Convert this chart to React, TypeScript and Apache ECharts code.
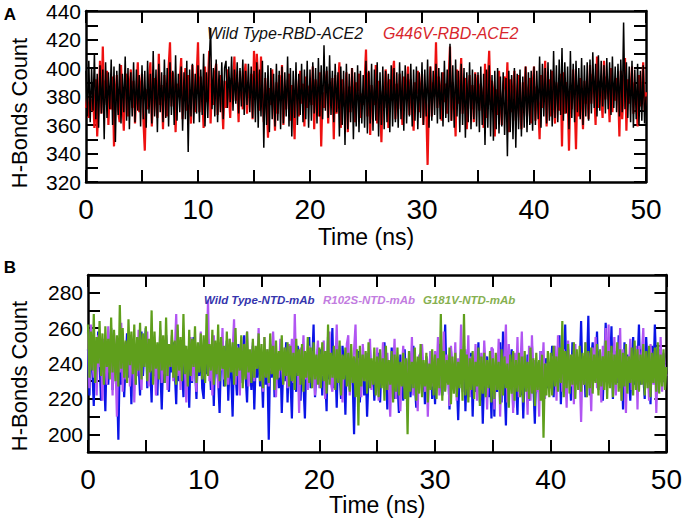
import React, { useEffect, useRef } from "react";
import * as echarts from "echarts";

const TIME_MAX = 50;

// Panel A: H-bond counts (RBD-ACE2), sampled every 0.125 ns
const wtRbdAce2 = [
  398, 366, 405, 362, 400, 370, 410, 364, 396, 358, 402, 368, 399, 350, 404, 365, 397, 371, 406, 360,
  401, 348, 398, 367, 403, 361, 396, 369, 408, 363, 400, 357, 397, 366, 404, 362, 399, 370, 395, 359,
  402, 364, 398, 358, 405, 368, 396, 361, 412, 366, 399, 355, 403, 369, 397, 362, 406, 365, 400, 359,
  404, 367, 398, 360, 409, 363, 396, 369, 401, 356, 397, 364, 405, 341, 399, 366, 403, 361, 396, 368,
  402, 362, 399, 367, 410, 359, 397, 365, 403, 428, 371, 400, 366, 406, 362, 398, 369, 404, 364, 400,
  405, 372, 401, 376, 408, 370, 399, 375, 404, 368, 400, 373, 406, 367, 398, 374, 403, 369, 401, 365,
  398, 362, 404, 358, 399, 366, 405, 344, 397, 360, 402, 355, 400, 364, 396, 359, 403, 363, 398, 357,
  401, 361, 397, 366, 408, 359, 400, 352, 398, 365, 404, 360, 396, 367, 403, 362, 399, 364, 405, 358,
  399, 363, 404, 368, 400, 361, 407, 366, 402, 364, 416, 370, 401, 365, 409, 367, 398, 362, 403, 369,
  397, 352, 401, 360, 398, 346, 403, 357, 396, 362, 400, 350, 397, 359, 402, 355, 398, 361, 395, 358,
  405, 354, 398, 361, 403, 356, 399, 363, 404, 352, 397, 360, 401, 357, 398, 362, 396, 355, 402, 359,
  400, 362, 397, 358, 404, 364, 398, 356, 402, 361, 396, 366, 403, 359, 399, 363, 401, 357, 397, 365,
  404, 360, 399, 366, 406, 358, 401, 363, 398, 367, 403, 361, 400, 364, 397, 359, 405, 365, 399, 362,
  417, 363, 402, 358, 406, 366, 398, 355, 403, 360, 400, 351, 397, 362, 404, 357, 399, 364, 396, 359,
  397, 355, 401, 360, 396, 346, 399, 358, 402, 352, 395, 349, 398, 357, 400, 354, 394, 359, 397, 353,
  393, 338, 398, 355, 395, 350, 400, 344, 396, 357, 399, 352, 394, 358, 401, 355, 397, 360, 398, 356,
  401, 360, 398, 364, 408, 358, 403, 366, 400, 361, 404, 363, 399, 359, 412, 365, 402, 362, 406, 367,
  414, 363, 404, 368, 401, 357, 412, 365, 403, 362, 405, 369, 400, 364, 407, 360, 402, 366, 404, 363,
  406, 368, 411, 372, 403, 366, 409, 370, 405, 373, 402, 368, 407, 371, 404, 367, 408, 372, 401, 369,
  403, 366, 406, 369, 432, 371, 404, 365, 401, 362, 405, 358, 399, 364, 403, 360, 398, 363, 402, 361,
  380,
];
const g446vRbdAce2 = [
  372, 380, 365, 378, 370, 383, 358, 392, 352, 376, 405, 368, 415, 374, 389, 398, 360, 386, 371, 394,
  345, 381, 395, 370, 362, 402, 377, 356, 388, 396, 366, 384, 399, 372, 391, 361, 383, 404, 369, 387,
  396, 363, 342, 385, 371, 391, 404, 359, 382, 393, 377, 365, 410, 374, 388, 357, 395, 379, 366, 400,
  418, 373, 397, 384, 355, 389, 380, 392, 407, 364, 386, 400, 370, 395, 378, 361, 402, 383, 369, 393,
  418, 369, 394, 381, 358, 401, 376, 387, 412, 361, 389, 374, 396, 403, 367, 385, 395, 380, 357, 391,
  372, 399, 385, 365, 393, 386, 408, 377, 390, 362, 398, 382, 371, 394, 403, 368, 387, 379, 396, 364,
  412, 378, 410, 391, 370, 408, 382, 362, 393, 376, 351, 386, 374, 399, 383, 356, 390, 368, 395, 377,
  402, 360, 384, 371, 391, 396, 363, 388, 374, 350, 392, 381, 366, 398, 375, 389, 359, 394, 372, 386,
  388, 374, 401, 357, 392, 383, 366, 397, 345, 383, 372, 389, 398, 361, 389, 376, 393, 350, 395, 368,
  386, 404, 358, 392, 373, 381, 397, 355, 387, 369, 400, 378, 362, 390, 384, 396, 365, 382, 374, 391,
  413, 366, 397, 353, 388, 380, 374, 402, 361, 391, 383, 348, 384, 372, 399, 388, 358, 392, 377, 395,
  405, 364, 389, 371, 396, 383, 360, 394, 378, 386, 401, 367, 392, 375, 356, 390, 382, 398, 369, 385,
  396, 360, 385, 374, 332, 378, 401, 366, 390, 380, 418, 372, 394, 386, 363, 397, 376, 389, 368, 392,
  415, 363, 390, 379, 352, 399, 375, 386, 407, 368, 386, 393, 357, 382, 395, 371, 388, 362, 397, 378,
  395, 370, 389, 381, 358, 403, 365, 392, 412, 374, 391, 383, 352, 385, 367, 398, 377, 360, 388, 394,
  377, 404, 355, 392, 369, 386, 398, 363, 381, 395, 372, 357, 390, 379, 401, 366, 385, 393, 361, 388,
  401, 363, 387, 375, 350, 395, 372, 384, 405, 359, 383, 392, 366, 398, 377, 361, 390, 381, 370, 396,
  345, 397, 368, 390, 383, 342, 384, 371, 399, 378, 343, 388, 366, 393, 380, 357, 391, 375, 386, 364,
  402, 375, 396, 384, 360, 408, 372, 391, 381, 365, 405, 378, 394, 386, 362, 400, 369, 389, 377, 393,
  387, 352, 398, 364, 383, 407, 356, 392, 375, 386, 401, 368, 390, 380, 359, 395, 373, 385, 404, 370,
  383,
];

// Panel B: H-bond counts (NTD-mAb)
const wtNtdMab = [
  248, 222, 255, 236, 216, 252, 230, 258, 241, 219, 246, 236, 213, 250, 228, 244, 260, 225, 238, 251,
  232, 197, 244, 228, 253, 221, 240, 257, 232, 245, 217, 249, 236, 228, 254, 240, 222, 258, 233, 247,
  260, 226, 249, 238, 218, 255, 233, 243, 222, 251, 237, 214, 243, 229, 256, 240, 224, 248, 235, 252,
  236, 217, 252, 230, 246, 239, 221, 250, 234, 244, 215, 248, 229, 255, 238, 220, 246, 233, 251, 226,
  220, 250, 234, 254, 242, 225, 245, 216, 249, 237, 231, 212, 244, 252, 227, 240, 253, 219, 241, 235,
  210, 247, 235, 222, 251, 238, 244, 229, 256, 233, 218, 246, 239, 225, 250, 214, 242, 232, 248, 227,
  239, 215, 248, 228, 241, 197, 244, 232, 250, 221, 240, 236, 226, 246, 212, 238, 230, 252, 218, 243,
  231, 209, 245, 236, 224, 250, 240, 219, 247, 228, 209, 244, 233, 255, 226, 240, 262, 221, 237, 248,
  236, 248, 222, 244, 232, 213, 255, 231, 241, 260, 226, 241, 215, 247, 234, 220, 250, 238, 211, 245,
  238, 225, 243, 231, 200, 243, 229, 247, 218, 237, 245, 222, 239, 210, 233, 248, 227, 241, 219, 235,
  232, 246, 218, 240, 228, 252, 236, 214, 237, 224, 249, 231, 220, 242, 230, 212, 245, 235, 219, 248,
  226, 238, 243, 221, 236, 250, 229, 215, 241, 233, 246, 224, 239, 217, 244, 232, 228, 247, 220, 237,
  217, 244, 233, 251, 227, 222, 240, 262, 229, 240, 214, 247, 236, 225, 243, 230, 208, 238, 245, 230,
  250, 213, 241, 227, 236, 246, 210, 239, 224, 233, 252, 218, 240, 206, 235, 228, 244, 221, 237, 209,
  246, 210, 239, 224, 233, 252, 218, 258, 230, 205, 243, 226, 238, 248, 215, 237, 229, 211, 244, 222,
  240, 209, 236, 225, 245, 219, 232, 250, 228, 206, 241, 234, 222, 247, 230, 213, 238, 243, 226, 235,
  236, 250, 221, 245, 230, 239, 256, 217, 241, 233, 262, 225, 248, 236, 219, 252, 240, 228, 246, 231,
  236, 264, 228, 244, 221, 237, 267, 222, 243, 252, 230, 238, 258, 225, 247, 233, 219, 241, 263, 235,
  250, 235, 261, 220, 247, 238, 229, 256, 226, 243, 214, 252, 230, 245, 236, 219, 240, 255, 228, 246,
  240, 262, 228, 248, 233, 220, 255, 238, 244, 217, 250, 231, 262, 236, 224, 248, 239, 229, 245, 234,
  238,
];
const r102sNtdMab = [
  258, 226, 262, 240, 232, 250, 222, 256, 238, 247, 219, 254, 242, 228, 261, 235, 249, 222, 257, 240,
  210, 249, 235, 263, 224, 252, 231, 244, 257, 227, 241, 251, 218, 246, 233, 259, 238, 225, 250, 243,
  245, 258, 227, 251, 236, 255, 243, 222, 248, 240, 259, 229, 246, 234, 252, 225, 249, 238, 256, 230,
  246, 268, 233, 250, 225, 244, 257, 237, 218, 248, 241, 255, 230, 247, 236, 224, 251, 239, 258, 233,
  235, 253, 242, 276, 230, 249, 222, 256, 239, 245, 226, 252, 236, 260, 231, 247, 243, 228, 254, 237,
  247, 265, 228, 250, 238, 222, 255, 241, 233, 249, 258, 227, 244, 236, 252, 230, 246, 239, 260, 232,
  244, 224, 255, 233, 248, 227, 251, 236, 258, 240, 221, 246, 232, 254, 238, 228, 249, 243, 226, 251,
  240, 254, 229, 268, 235, 243, 212, 249, 237, 256, 231, 245, 225, 250, 239, 233, 247, 222, 241, 253,
  226, 245, 233, 253, 220, 247, 238, 258, 229, 224, 242, 236, 262, 229, 250, 243, 218, 244, 235, 251,
  256, 222, 240, 231, 248, 262, 227, 243, 236, 221, 251, 239, 230, 246, 233, 254, 225, 241, 237, 228,
  249, 219, 243, 234, 252, 224, 238, 246, 228, 210, 241, 236, 254, 220, 244, 232, 213, 238, 250, 226,
  242, 218, 247, 231, 255, 222, 240, 234, 213, 245, 229, 251, 237, 224, 243, 210, 239, 247, 227, 236,
  247, 231, 255, 222, 240, 234, 258, 225, 245, 237, 216, 250, 237, 228, 252, 219, 243, 233, 262, 224,
  239, 248, 230, 256, 221, 244, 235, 228, 251, 219, 242, 233, 246, 225, 253, 237, 214, 241, 230, 249,
  248, 214, 241, 230, 254, 210, 237, 226, 245, 262, 218, 251, 232, 240, 212, 246, 229, 255, 221, 238,
  258, 226, 244, 235, 211, 250, 219, 256, 231, 242, 224, 238, 210, 247, 233, 252, 220, 240, 236, 228,
  226, 244, 235, 250, 219, 256, 231, 242, 224, 248, 238, 215, 253, 236, 227, 245, 217, 251, 230, 240,
  234, 207, 240, 228, 252, 222, 246, 237, 213, 249, 231, 255, 226, 243, 238, 218, 250, 233, 260, 229,
  262, 228, 246, 234, 255, 222, 243, 237, 260, 219, 248, 231, 212, 244, 236, 254, 225, 241, 233, 250,
  214, 250, 233, 245, 260, 227, 242, 236, 219, 251, 238, 228, 247, 212, 240, 232, 255, 224, 246, 237,
  233,
];
const g181vNtdMab = [
  262, 232, 258, 236, 268, 229, 255, 240, 264, 233, 257, 228, 261, 238, 254, 231, 266, 235, 259, 230,
  256, 227, 273, 237, 260, 232, 253, 229, 265, 239, 258, 234, 262, 228, 255, 236, 263, 231, 257, 238,
  261, 230, 254, 235, 270, 228, 258, 237, 252, 231, 264, 236, 256, 229, 266, 233, 251, 238, 259, 232,
  253, 228, 262, 236, 255, 230, 268, 234, 250, 227, 259, 233, 254, 238, 261, 229, 252, 235, 257, 231,
  256, 229, 268, 233, 251, 236, 259, 228, 253, 234, 262, 230, 255, 237, 250, 227, 258, 232, 254, 235,
  252, 228, 260, 233, 249, 236, 256, 226, 251, 231, 258, 235, 248, 229, 254, 232, 250, 237, 257, 230,
  251, 226, 255, 232, 248, 229, 257, 234, 250, 225, 253, 231, 247, 236, 256, 228, 249, 233, 252, 227,
  250, 230, 246, 225, 254, 233, 248, 228, 251, 224, 247, 232, 255, 229, 249, 226, 252, 231, 245, 228,
  249, 226, 252, 230, 247, 223, 262, 228, 246, 232, 250, 225, 248, 229, 253, 222, 245, 231, 249, 227,
  246, 224, 251, 229, 244, 221, 248, 205, 250, 227, 245, 230, 247, 223, 252, 226, 243, 228, 249, 222,
  244, 221, 248, 226, 243, 219, 250, 225, 242, 228, 247, 218, 245, 224, 249, 222, 241, 227, 246, 220,
  243, 200, 247, 224, 241, 226, 249, 219, 244, 223, 251, 221, 242, 227, 246, 218, 240, 225, 248, 222,
  245, 220, 243, 226, 268, 219, 247, 224, 242, 228, 249, 217, 244, 223, 246, 221, 241, 226, 248, 219,
  268, 222, 245, 218, 243, 225, 247, 220, 241, 227, 249, 216, 244, 223, 246, 221, 242, 226, 247, 218,
  243, 220, 246, 225, 241, 217, 248, 222, 244, 226, 240, 215, 245, 223, 247, 219, 242, 224, 246, 221,
  244, 218, 247, 224, 241, 220, 249, 223, 243, 216, 246, 225, 242, 219, 245, 198, 240, 222, 247, 221,
  246, 222, 250, 227, 244, 224, 249, 229, 264, 221, 247, 226, 251, 223, 245, 228, 252, 220, 248, 225,
  250, 224, 246, 228, 252, 221, 247, 226, 249, 223, 245, 229, 251, 222, 248, 227, 244, 225, 253, 220,
  247, 226, 250, 221, 245, 228, 252, 224, 248, 219, 246, 227, 251, 223, 244, 229, 249, 222, 253, 225,
  248, 224, 245, 228, 251, 222, 247, 226, 250, 221, 246, 229, 249, 224, 252, 223, 245, 227, 248, 225,
  238,
];

const legendA = ["Wild Type-RBD-ACE2", "G446V-RBD-ACE2"];
const legendB = ["Wild Type-NTD-mAb", "R102S-NTD-mAb", "G181V-NTD-mAb"];

const FONT = "'Liberation Sans', Arial, sans-serif";

function toPairs(values: number[]) {
  const step = TIME_MAX / (values.length - 1);
  return values.map((v, i) => [i * step, v]);
}

const lineAxis = { show: true, onZero: false, lineStyle: { color: "#000", width: 2.5 } };
const tick = { show: true, inside: true, length: 12, lineStyle: { color: "#000", width: 2 } };

function xAxes(gridIndex: number, gap: number) {
  return [
    {
      type: "value", gridIndex, position: "bottom", min: 0, max: 50, interval: 5,
      axisLine: lineAxis, axisTick: tick, splitLine: { show: false },
      axisLabel: {
        color: "#000", fontSize: 28, fontFamily: FONT, margin: 13,
        formatter: (v: number) => (v % 10 === 0 ? String(v) : ""),
      },
      name: "Time (ns)", nameLocation: "middle", nameGap: gap,
      nameTextStyle: { color: "#000", fontSize: 23, fontFamily: FONT },
    },
    {
      type: "value", gridIndex, position: "top", min: 0, max: 50, interval: 5,
      axisLine: lineAxis, axisTick: tick, splitLine: { show: false }, axisLabel: { show: false },
    },
  ];
}

function yAxes(gridIndex: number, min: number, max: number) {
  return [
    {
      type: "value", gridIndex, position: "left", min, max, interval: 10,
      axisLine: lineAxis, axisTick: tick, splitLine: { show: false },
      axisLabel: {
        color: "#000", fontSize: 21, fontFamily: FONT, margin: 5,
        showMinLabel: true, showMaxLabel: true,
        formatter: (v: number) => (v % 20 === 0 ? String(v) : ""),
      },
    },
    {
      type: "value", gridIndex, position: "right", min, max, interval: 10,
      axisLine: lineAxis, axisTick: tick, splitLine: { show: false }, axisLabel: { show: false },
    },
  ];
}

function lineSeries(values: number[], color: string, axis: number, width: number) {
  return {
    type: "line", xAxisIndex: axis, yAxisIndex: axis, data: toPairs(values),
    symbol: "none", showSymbol: false, silent: true,
    lineStyle: { color, width },
  };
}

export default function App() {
  const ref = useRef<HTMLDivElement>(null);
  useEffect(() => {
    if (!ref.current) return;
    const chart = echarts.init(ref.current, undefined, { renderer: "svg" });
    chart.setOption({
      animation: false,
      backgroundColor: "#fff",
      grid: [
        { left: 86, top: 11, width: 560, height: 171 },
        { left: 88, top: 275, width: 579, height: 177 },
      ],
      xAxis: [...xAxes(0, 43), ...xAxes(1, 41)],
      yAxis: [...yAxes(0, 320, 440), ...yAxes(1, 190, 290)],
      series: [
        lineSeries(g446vRbdAce2, "#ee1111", 0, 2.2),
        lineSeries(wtRbdAce2, "#000000", 0, 1.5),
        lineSeries(wtNtdMab, "#0a14e6", 2, 2.2),
        lineSeries(r102sNtdMab, "#b155f2", 2, 2.2),
        lineSeries(g181vNtdMab, "#5f9f1c", 2, 2.2),
      ],
      graphic: [
        { type: "text", x: 10, y: 14, style: { text: "A", fontSize: 17, fontWeight: "bold", fontFamily: FONT, fill: "#000", align: "center", verticalAlign: "middle" } },
        { type: "text", x: 10, y: 267, style: { text: "B", fontSize: 17, fontWeight: "bold", fontFamily: FONT, fill: "#000", align: "center", verticalAlign: "middle" } },
        { type: "text", x: 19, y: 113, rotation: Math.PI / 2, style: { text: "H-Bonds Count", fontSize: 22, fontFamily: FONT, fill: "#000", align: "center", verticalAlign: "middle" } },
        { type: "text", x: 19, y: 376, rotation: Math.PI / 2, style: { text: "H-Bonds Count", fontSize: 22, fontFamily: FONT, fill: "#000", align: "center", verticalAlign: "middle" } },
        { type: "text", x: 207, y: 33, z: 10, style: { text: legendA[0], fontSize: 16, fontStyle: "italic", fontFamily: FONT, fill: "#111", verticalAlign: "middle" } },
        { type: "text", x: 383, y: 33, z: 10, style: { text: legendA[1], fontSize: 16, fontStyle: "italic", fontFamily: FONT, fill: "#d8262c", verticalAlign: "middle" } },
        { type: "text", x: 204, y: 300, z: 10, style: { text: legendB[0], fontSize: 11.5, fontStyle: "italic", fontWeight: "bold", fontFamily: FONT, fill: "#3535ad", verticalAlign: "middle" } },
        { type: "text", x: 323, y: 300, z: 10, style: { text: legendB[1], fontSize: 11.5, fontStyle: "italic", fontWeight: "bold", fontFamily: FONT, fill: "#c27ce0", verticalAlign: "middle" } },
        { type: "text", x: 423, y: 300, z: 10, style: { text: legendB[2], fontSize: 11.5, fontStyle: "italic", fontWeight: "bold", fontFamily: FONT, fill: "#86b04f", verticalAlign: "middle" } },
      ],
    });
    return () => chart.dispose();
  }, []);
  return (
    <div
      ref={ref}
      style={{ position: "fixed", left: 0, top: 0, width: 685, height: 529, background: "#fff" }}
    />
  );
}
